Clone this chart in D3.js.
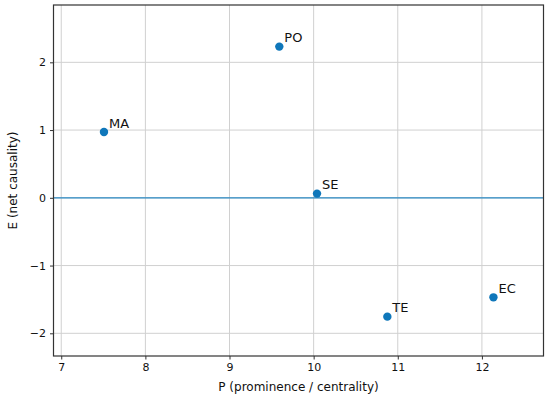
<!DOCTYPE html>
<html>
<head>
<meta charset="utf-8">
<script src="https://cdn.jsdelivr.net/npm/d3@7"></script>
<style>
  body { margin: 0; background: #fff; }
  text { font-family: "DejaVu Sans", sans-serif; fill: #111; }
</style>
</head>
<body>
<div id="chart"></div>
<script>
// factors and their (P, E) coordinates
let labels = ['MA', 'PO', 'SE', 'TE', 'EC']
let pValues = [7.508, 9.592, 10.04, 10.876, 12.137]
let eValues = [0.971, 2.232, 0.062, -1.754, -1.469]

let xTicks = [7, 8, 9, 10, 11, 12]
let yTicks = [-2, -1, 0, 1, 2]

let margin = { top: 5, left: 53.5, right: 6.5, bottom: 44 }
let width = 550 - margin.left - margin.right
let height = 400 - margin.top - margin.bottom

let dotColor = '#0f77ba'

let svg = d3.select('#chart').append('svg')
  .attr('width', 550)
  .attr('height', 400)

let holder = svg.append('g')
  .attr('transform', `translate(${margin.left},${margin.top})`)

let xScale = d3.scaleLinear()
  .domain([6.908, 12.732])
  .range([0, width])

let yScale = d3.scaleLinear()
  .domain([-2.335, 2.846])
  .range([height, 0])

let points = labels.map((d, i) => ({ name: d, p: pValues[i], e: eValues[i] }))

// grid
holder.selectAll('.grid-x')
  .data(xTicks)
  .enter().append('line')
  .attr('x1', d => xScale(d))
  .attr('x2', d => xScale(d))
  .attr('y1', 0)
  .attr('y2', height)
  .attr('stroke', '#d0d0d0')
  .attr('stroke-width', 1)

holder.selectAll('.grid-y')
  .data(yTicks)
  .enter().append('line')
  .attr('x1', 0)
  .attr('x2', width)
  .attr('y1', d => yScale(d))
  .attr('y2', d => yScale(d))
  .attr('stroke', '#d0d0d0')
  .attr('stroke-width', 1)

// zero line
holder.append('line')
  .attr('x1', 0)
  .attr('x2', width)
  .attr('y1', yScale(0))
  .attr('y2', yScale(0))
  .attr('stroke', '#2a8ac4')
  .attr('stroke-width', 1.2)

// axes
let minus = d => d < 0 ? '\u2212' + Math.abs(d) : String(d)
let xAxis = d3.axisBottom(xScale).tickValues(xTicks).tickSize(3.5).tickPadding(4)
  .tickFormat(d3.format('d'))
let yAxis = d3.axisLeft(yScale).tickValues(yTicks).tickSize(3.5).tickPadding(4)
  .tickFormat(minus)

holder.append('g')
  .attr('transform', `translate(0,${height})`)
  .call(xAxis)
  .call(g => g.select('.domain').remove())
  .selectAll('text').attr('font-size', 11).attr('font-family', 'DejaVu Sans').attr('fill', '#111')

holder.append('g')
  .call(yAxis)
  .call(g => g.select('.domain').remove())
  .selectAll('text').attr('font-size', 11).attr('font-family', 'DejaVu Sans').attr('fill', '#111')

holder.selectAll('.tick line').attr('stroke', '#333')

holder.append('rect')
  .attr('width', width)
  .attr('height', height)
  .attr('fill', 'none')
  .attr('stroke', '#333')
  .attr('stroke-width', 1.2)

// dots + labels
holder.selectAll('.dot')
  .data(points)
  .enter().append('circle')
  .attr('cx', d => xScale(d.p))
  .attr('cy', d => yScale(d.e))
  .attr('r', 4.2)
  .attr('fill', dotColor)

holder.selectAll('.dot-label')
  .data(points)
  .enter().append('text')
  .attr('x', d => xScale(d.p))
  .attr('y', d => yScale(d.e))
  .attr('dx', 5)
  .attr('dy', -4.5)
  .attr('font-size', 13)
  .text(d => d.name)

// axis titles
svg.append('text')
  .attr('x', margin.left + width / 2)
  .attr('y', 391)
  .attr('text-anchor', 'middle')
  .attr('font-size', 12)
  .text('P (prominence / centrality)')

svg.append('text')
  .attr('transform', `translate(17,${margin.top + height / 2}) rotate(-90)`)
  .attr('text-anchor', 'middle')
  .attr('font-size', 12)
  .text('E (net causality)')
</script>
</body>
</html>
